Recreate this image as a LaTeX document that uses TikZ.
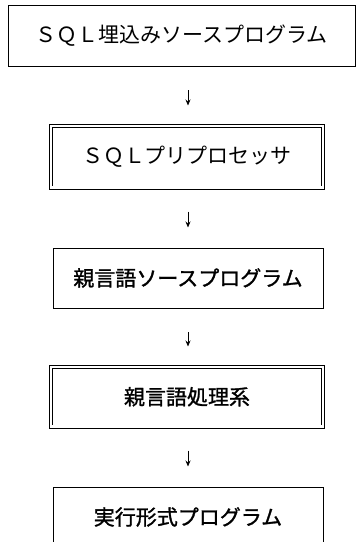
\documentclass[tikz,border=0pt]{standalone}
\usepackage{fontspec}
\newfontfamily\jp{Noto Sans CJK JP}
\newfontfamily\jpb[FakeBold=1.3]{Noto Sans CJK JP}
\usetikzlibrary{arrows.meta}
\tikzset{
  box/.style={draw, line width=0.9pt, rectangle, inner sep=0pt, outer sep=0pt,
    minimum width=270pt, minimum height=60pt, font=\jp\fontsize{21pt}{24pt}\selectfont},
  boldtext/.style={font=\jpb\fontsize{21pt}{24pt}\selectfont},
  dbox/.style={box, double, double distance=2.6pt, line width=0.7pt,
    minimum width=272pt},
  arr/.style={-{Stealth[length=6pt,width=5pt]}, line width=0.9pt,
    shorten <=24pt, shorten >=20.5pt}
}
\begin{document}
\begin{tikzpicture}[x=1pt, y=-1pt]
\useasboundingbox (0,0) rectangle (363,542);
\clip (0,0) rectangle (363,542);
\node[box, minimum width=347pt, minimum height=61pt] (b1) at (181.5,35.5) {ＳＱＬ埋込みソースプログラム};
\node[dbox, minimum height=61.5pt] (b2) at (187,156.75) {ＳＱＬプリプロセッサ};
\node[box, boldtext] (b3) at (188,278) {親言語ソースプログラム};
\node[dbox, boldtext, minimum height=59.5pt] (b4) at (187,396.75) {親言語処理系};
\node[box, boldtext] (b5) at (188,517) {実行形式プログラム};
\draw[arr] (b1.south -| b3.north) -- (b2.north -| b3.north);
\draw[arr] (b2.south -| b3.north) -- (b3.north);
\draw[arr] (b3.south) -- (b4.north -| b3.south);
\draw[arr] (b4.south -| b3.south) -- (b5.north);
\end{tikzpicture}
\end{document}
